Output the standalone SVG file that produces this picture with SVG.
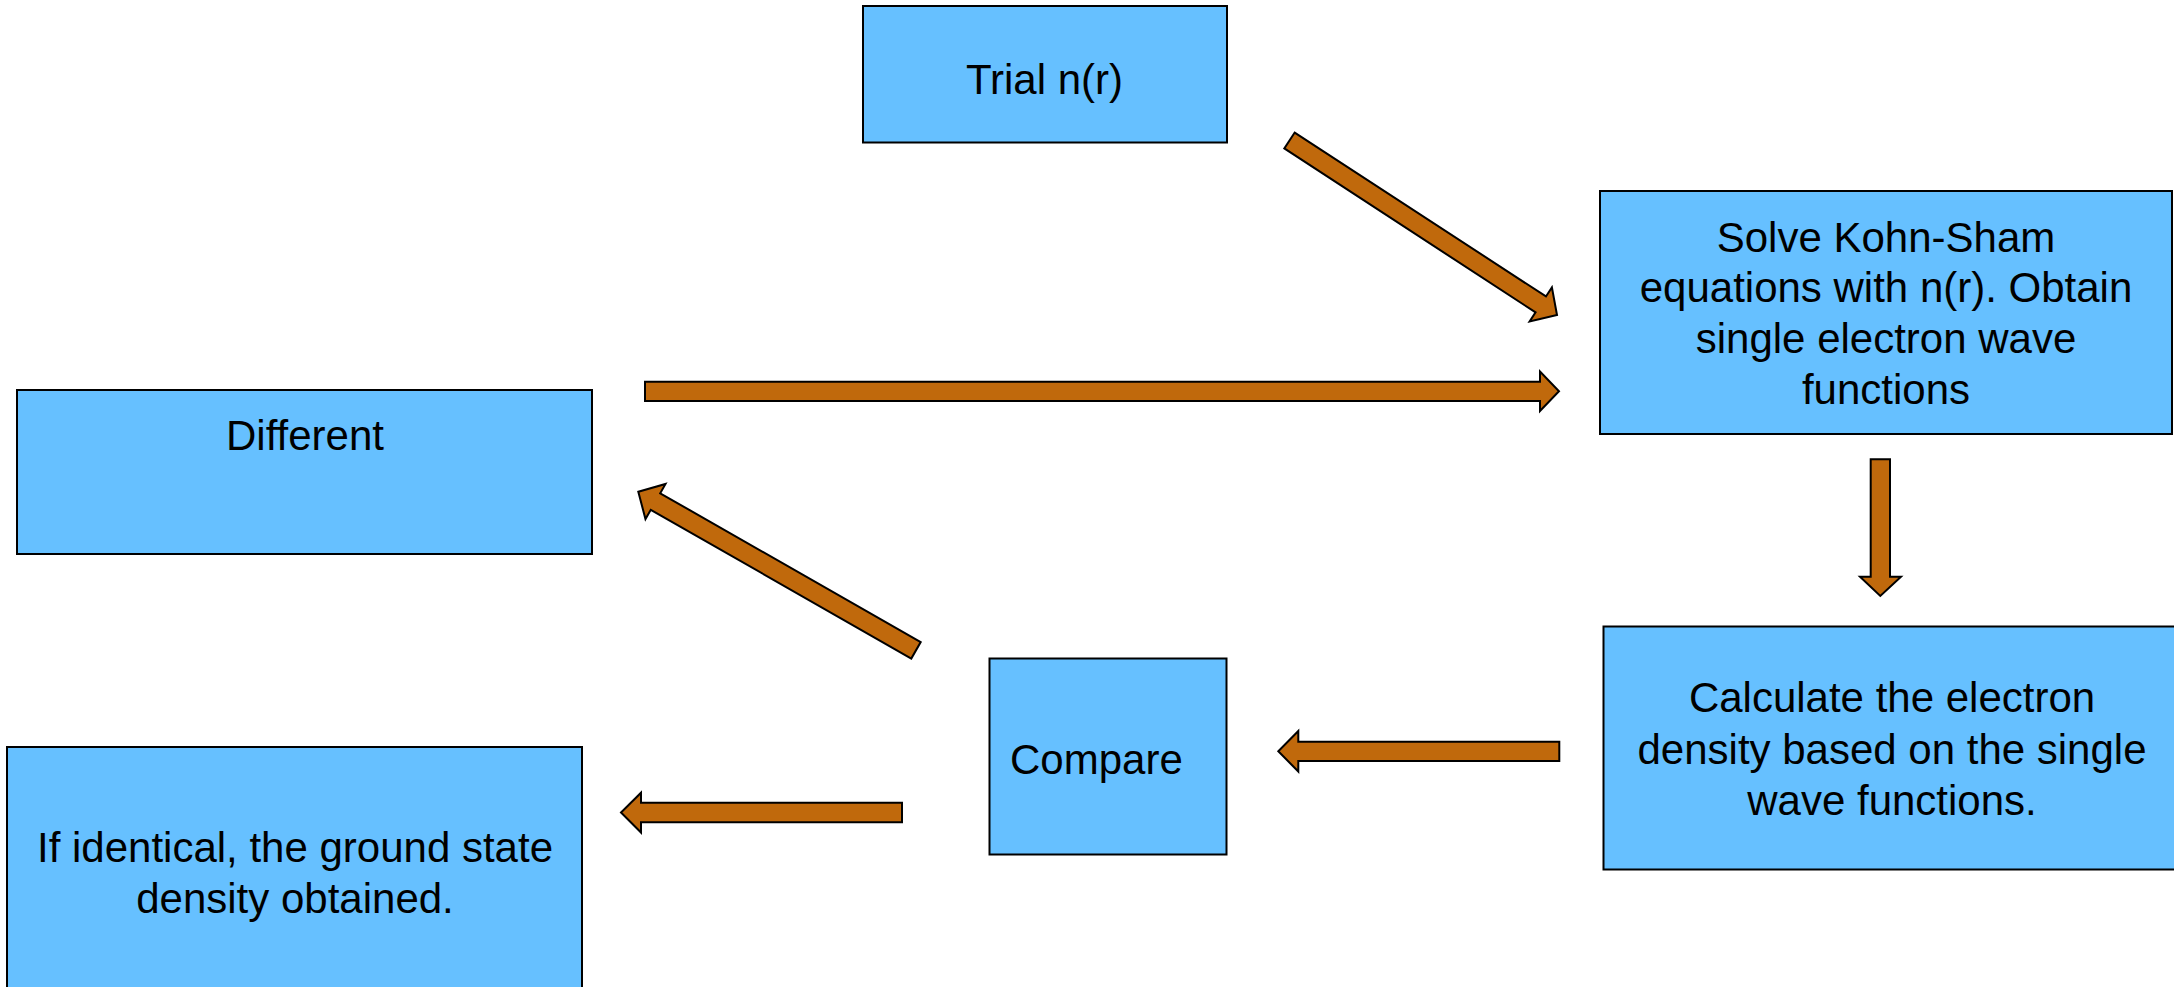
<svg xmlns="http://www.w3.org/2000/svg" width="2174" height="987" viewBox="0 0 2174 987">
<style>
.box{fill:#66C0FF;stroke:#000;stroke-width:2}
.arr{fill:#C0690C;stroke:#000;stroke-width:2;stroke-linejoin:miter}
text{font-family:"Liberation Sans",Arial,sans-serif;font-size:42px;fill:#000}
.c{text-anchor:middle}
</style>
<rect width="2174" height="987" fill="#fff"/>
<g id="trial">
<rect class="box" x="863" y="6" width="364" height="136.5"/>
<text class="c" x="1044.5" y="93.5">Trial n(r)</text>
</g>
<g id="solve">
<rect class="box" x="1600" y="191" width="572" height="243"/>
<text class="c" x="1886" y="251.5">Solve Kohn-Sham</text>
<text class="c" x="1886" y="302">equations with n(r). Obtain</text>
<text class="c" x="1886" y="352.5">single electron wave</text>
<text class="c" x="1886" y="403.5">functions</text>
</g>
<g id="different">
<rect class="box" x="17" y="390" width="575" height="164"/>
<text class="c" x="305" y="449.5">Different</text>
</g>
<g id="calculate">
<rect class="box" x="1603.5" y="626.5" width="580" height="243"/>
<text class="c" x="1892" y="712">Calculate the electron</text>
<text class="c" x="1892" y="763.5">density based on the single</text>
<text class="c" x="1892" y="814.5">wave functions.</text>
</g>
<g id="compare">
<rect class="box" x="989.5" y="658.5" width="237" height="196"/>
<text x="1010" y="773.5">Compare</text>
</g>
<g id="identical">
<rect class="box" x="7" y="747" width="575" height="250"/>
<text class="c" x="295" y="862">If identical, the ground state</text>
<text class="c" x="295" y="913">density obtained.</text>
</g>
<g id="connectors">
<polygon class="arr" transform="translate(1289.5,140.5) rotate(33.12)" points="0,-9.5 300,-9.5 300,-20.4 319.4,0 300,20.4 300,9.5 0,9.5"/>
<polygon class="arr" points="645,381.7 1540,381.7 1540,371.5 1559,391.3 1540,411 1540,401 645,401"/>
<polygon class="arr" points="1870.7,459.3 1890,459.3 1890,576.7 1901,576.7 1880.3,596 1860,576.7 1870.7,576.7"/>
<polygon class="arr" points="1559.3,741.7 1298.3,741.7 1298.3,731 1278.3,751.3 1298.3,771.5 1298.3,761 1559.3,761"/>
<polygon class="arr" points="902,802.7 641,802.7 641,792.7 621,812.5 641,832.5 641,822.3 902,822.3"/>
<polygon class="arr" transform="translate(916,650.3) rotate(209.73)" points="0,-9.5 300,-9.5 300,-20.2 319.8,0 300,20.2 300,9.5 0,9.5"/>
</g>
</svg>
